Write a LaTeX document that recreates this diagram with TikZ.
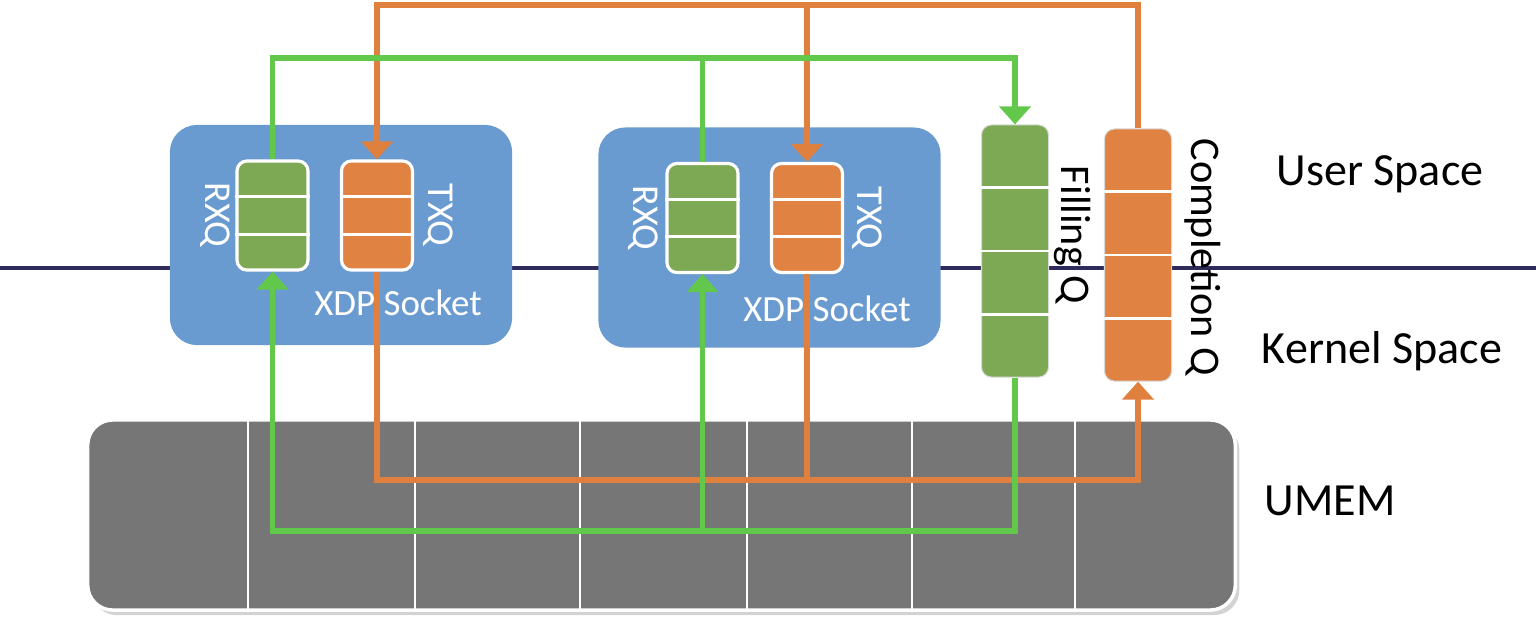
\documentclass[tikz,border=0pt]{standalone}
\usepackage{fontspec}
\setmainfont{Carlito}
\usetikzlibrary{arrows.meta,calc,shadows}

\definecolor{sockblue}{HTML}{6A9BD0}
\definecolor{qgreen}{HTML}{7EA954}
\definecolor{qorange}{HTML}{E08242}
\definecolor{lgreen}{HTML}{62C84B}
\definecolor{lorange}{HTML}{E0803F}
\definecolor{umemgray}{HTML}{767676}
\definecolor{spacenavy}{HTML}{2E2A5A}

\tikzset{
  socket/.style={fill=sockblue, rounded corners=0.27cm, minimum width=3.42cm, minimum height=2.2cm},
  ringq/.style={draw=white, line width=0.9pt, rounded corners=0.1cm, minimum width=0.71cm, minimum height=1.09cm},
  bigq/.style={draw=white!85!black, line width=0.3pt, rounded corners=0.1cm, minimum width=0.67cm, minimum height=2.52cm},
  qlabel/.style={white, font=\fontsize{10.8}{12}\selectfont, rotate=-90},
  sidelabel/.style={black, font=\fontsize{13.1}{15}\selectfont},
  gflow/.style={draw=lgreen, line width=1.65pt},
  oflow/.style={draw=lorange, line width=1.7pt},
  flowtip/.style={-{Triangle[width=0.31cm,length=0.18cm]}}
}

\begin{document}
\begin{tikzpicture}[x=0.01cm, y=-0.01cm]
        \useasboundingbox (0,0) rectangle (1536,620);

        % user / kernel border
        \draw[spacenavy, line width=1.2pt] (0,268) -- (1536,268);

        % UMEM area
        \node[fill=umemgray, draw=white, line width=1pt, rounded corners=0.25cm,
              minimum width=11.47cm, minimum height=1.9cm,
              drop shadow={shadow xshift=0.04cm, shadow yshift=-0.05cm, opacity=0.35}] (umem) at (661.5,515) {};
        \foreach \x in {248,415,580,747,912,1075} {
            \draw[white, line width=0.6pt] (\x,420) -- (\x,610);
        }

        % XDP sockets
        \node[socket] (sockA) at (341,235) {};
        \node[socket] (sockB) at (769.5,237.5) {};

        % ring queues
        \node[ringq, fill=qgreen] (rxqA) at (272.5,215.5) {};
        \node[ringq, fill=qorange] (txqA) at (377,215.5) {};
        \node[ringq, fill=qgreen] (rxqB) at (702.5,218) {};
        \node[ringq, fill=qorange] (txqB) at (807,218) {};
        \foreach \q in {rxqA,txqA,rxqB,txqB} {
            \foreach \k in {1,2}
                \draw[white, line width=0.8pt] ($(\q.north west)!\k/3!(\q.south west)$) -- ($(\q.north east)!\k/3!(\q.south east)$);
        }
        \node[bigq, fill=qgreen] (fillq) at (1015,251) {};
        \node[bigq, fill=qorange] (compq) at (1138,255) {};
        \foreach \q in {fillq,compq} {
            \foreach \k in {1,2,3}
                \draw[white, line width=0.7pt] ($(\q.north west)!\k/4!(\q.south west)$) -- ($(\q.north east)!\k/4!(\q.south east)$);
        }

        % rails
        \coordinate (otop) at (0,5);
        \coordinate (gtop) at (0,58);
        \coordinate (obot) at (0,480);
        \coordinate (gbot) at (0,531);

        % orange flow
        \draw[oflow, flowtip] (compq.north) -- (compq.north |- otop) -| (txqA.north);
        \draw[oflow, flowtip] (txqB.north |- otop) -- (txqB.north);
        \draw[oflow, flowtip] (txqA.south) |- (compq.south |- obot) -- (compq.south);
        \draw[oflow] (txqB.south) -- (txqB.south |- obot);

        % green flow
        \draw[gflow, flowtip] (rxqA.north) |- (fillq.north |- gtop) -- (fillq.north);
        \draw[gflow] (rxqB.north) -- (rxqB.north |- gtop);
        \draw[gflow, flowtip] (fillq.south) |- (rxqA.south |- gbot) -- (rxqA.south);
        \draw[gflow, flowtip] (rxqB.south |- gbot) -- (rxqB.south);

        % labels
        \node[qlabel] (rxqAlbl) at (215,215) {RXQ};
        \node[qlabel] (txqAlbl) at (438,215) {TXQ};
        \node[white, font=\fontsize{10.5}{12}\selectfont] (sockAlbl) at (398,303) {XDP Socket};
        \node[qlabel] (rxqBlbl) at (643,218) {RXQ};
        \node[qlabel] (txqBlbl) at (867,218) {TXQ};
        \node[white, font=\fontsize{10.5}{12}\selectfont] (sockBlbl) at (827,309) {XDP Socket};
        \node[black, font=\fontsize{12}{14}\selectfont, rotate=-90] (filllbl) at (1073,235) {Filling Q};
        \node[black, font=\fontsize{12}{14}\selectfont, rotate=-90] (complbl) at (1203,257) {Completion Q};

        \node[sidelabel] (user) at (1380,174) {User Space};
        \node[sidelabel] (kernel) at (1382,351) {Kernel Space};
        \node[sidelabel] (umemlbl) at (1330,501) {UMEM};
    \end{tikzpicture}
\end{document}
